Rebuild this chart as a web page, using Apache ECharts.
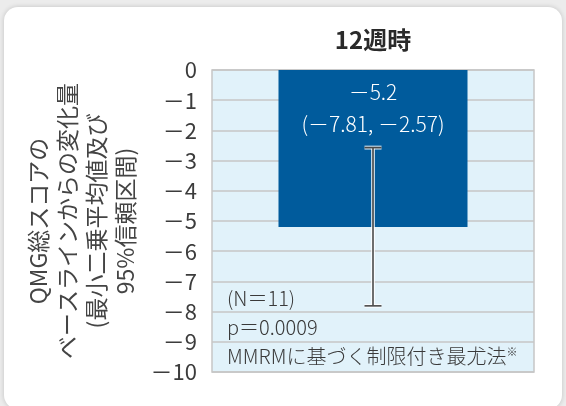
<!DOCTYPE html>
<html>
<head>
<meta charset="utf-8">
<script src="https://cdn.jsdelivr.net/npm/echarts@6/dist/echarts.min.js"></script>
<style>
  html, body { margin: 0; padding: 0; width: 566px; height: 406px; overflow: hidden; background: #ececec; }
  #card { position: absolute; left: 4px; top: 7px; width: 558px; height: 402px; background: #ffffff; border-radius: 14px; box-shadow: 0 0 5px rgba(0,0,0,0.18); }
  #chart { position: absolute; left: 0; top: 0; width: 566px; height: 406px; }
</style>
</head>
<body>
<div id="card"></div>
<div id="chart"></div>
<script>
// ---- data ----
var categories = ['12週時'];
var meanChange = [-5.2];
var ciLower = [-7.81];
var ciUpper = [-2.57];
var yMin = -10, yMax = 0, yStep = 1;
var yAxisName = ['QMG総スコアの', 'ベースラインからの変化量', '(最小二乗平均値及び', '95%信頼区間)'];
var notes = ['(N＝11)', 'p＝0.0009', 'MMRMに基づく制限付き最尤法'];
var noteMark = '※';

var FONT = '"Noto Sans CJK JP", "Noto Sans", sans-serif';
function fmt(v) { return (v < 0 ? '－' : '') + Math.abs(v); }

var chart = echarts.init(document.getElementById('chart'), null, { renderer: 'canvas' });

var errData = categories.map(function (c, i) { return [i, ciLower[i], ciUpper[i]]; });

var option = {
  backgroundColor: 'transparent',
  animation: false,
  grid: {
    left: 212, right: 32, top: 70, bottom: 34,
    show: true, backgroundColor: '#e1f2fa', borderColor: '#c6c6c6', borderWidth: 1.5
  },
  xAxis: {
    type: 'category',
    data: categories,
    position: 'top',
    axisLine: { show: false },
    axisTick: { show: false },
    splitLine: { show: false },
    axisLabel: { margin: 18, fontSize: 24, fontWeight: 'bold', color: '#2a2a2a', fontFamily: FONT }
  },
  yAxis: {
    type: 'value',
    min: yMin, max: yMax, interval: yStep,
    axisLine: { show: false },
    axisTick: { show: false },
    splitLine: { show: true, lineStyle: { color: '#c6c6c6', width: 1.5 } },
    axisLabel: {
      margin: 15, fontSize: 22, color: '#3c3c3c', fontFamily: FONT, fontWeight: 'normal',
      formatter: function (v) { return fmt(v); }
    },
    name: yAxisName.join('\n'),
    nameLocation: 'middle',
    nameRotate: 90,
    nameGap: 59,
    nameTextStyle: { fontSize: 23, lineHeight: 29, color: '#444444', fontFamily: FONT, fontWeight: 'normal', align: 'center' }
  },
  series: [
    {
      type: 'bar',
      data: meanChange,
      barWidth: '58.7%',
      itemStyle: { color: '#005b9c' },
      label: {
        show: true,
        position: 'insideTop',
        distance: 6,
        color: '#ffffff',
        fontSize: 21,
        lineHeight: 32,
        fontFamily: FONT,
        fontWeight: 300,
        formatter: function (p) {
          var i = p.dataIndex;
          return fmt(meanChange[i]) + '\n(' + fmt(ciLower[i]) + ', ' + fmt(ciUpper[i]) + ')';
        }
      },
      z: 2
    },
    {
      type: 'custom',
      data: errData,
      z: 5,
      renderItem: function (params, api) {
        var x = api.value(0);
        var lo = api.coord([x, api.value(1)]);
        var hi = api.coord([x, api.value(2)]);
        var hw = 8.5;
        var shapes = [];
        function seg(a, b, color, w) {
          return { type: 'line', shape: { x1: a[0], y1: a[1], x2: b[0], y2: b[1] }, style: { stroke: color, lineWidth: w } };
        }
        var parts = [
          [[lo[0], lo[1]], [hi[0], hi[1]]],
          [[lo[0] - hw, lo[1]], [lo[0] + hw, lo[1]]],
          [[hi[0] - hw, hi[1]], [hi[0] + hw, hi[1]]]
        ];
        parts.forEach(function (p) { shapes.push(seg(p[0], p[1], 'rgba(255,255,255,0.75)', 4)); });
        parts.forEach(function (p) { shapes.push(seg(p[0], p[1], '#4a4a4a', 1.6)); });
        return { type: 'group', children: shapes };
      }
    }
  ],
  graphic: [
    { type: 'text', left: 227, top: 288, z: 10,
      style: { text: notes[0], font: '300 20px ' + FONT, fill: '#3a3a3a' } },
    { type: 'text', left: 227, top: 317, z: 10,
      style: { text: notes[1], font: '300 20px ' + FONT, fill: '#3a3a3a' } },
    { type: 'text', left: 227, top: 346, z: 10,
      style: {
        text: notes[2] + '{s|' + noteMark + '}',
        font: '300 20px ' + FONT, fill: '#3a3a3a',
        rich: { s: { fontSize: 11, fontFamily: FONT, fill: '#3a3a3a', verticalAlign: 'top', padding: [0, 0, 8, 0] } }
      } }
  ]
};
chart.setOption(option);
</script>
</body>
</html>
